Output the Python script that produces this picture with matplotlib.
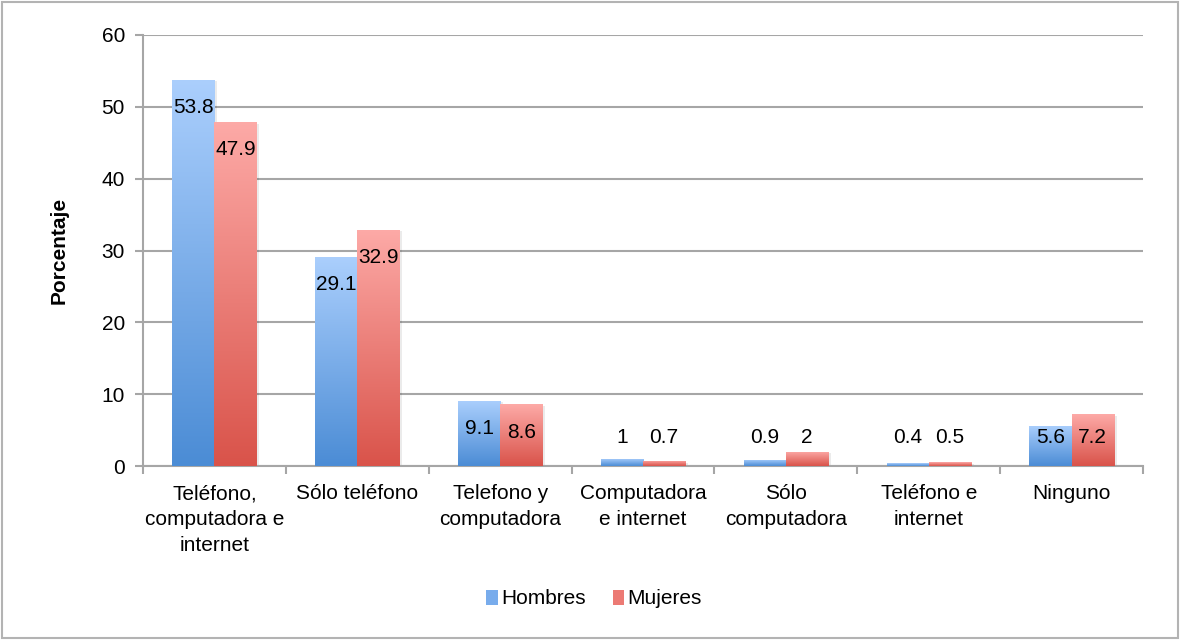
import numpy as np
import matplotlib.pyplot as plt
from matplotlib.colors import LinearSegmentedColormap
from matplotlib.patches import Rectangle

plt.rcParams["font.family"] = ["Liberation Sans", "DejaVu Sans"]

categories = [
    "Teléfono,\ncomputadora e\ninternet",
    "Sólo teléfono",
    "Telefono y\ncomputadora",
    "Computadora\ne internet",
    "Sólo\ncomputadora",
    "Teléfono e\ninternet",
    "Ninguno",
]
hombres = [53.8, 29.1, 9.1, 1, 0.9, 0.4, 5.6]
mujeres = [47.9, 32.9, 8.6, 0.7, 2, 0.5, 7.2]
labels_h = ["53.8", "29.1", "9.1", "1", "0.9", "0.4", "5.6"]
labels_m = ["47.9", "32.9", "8.6", "0.7", "2", "0.5", "7.2"]

BLUE_TOP, BLUE_BOT = "#abcffd", "#4b8cd5"
RED_TOP, RED_BOT = "#fdaaa7", "#d9534a"
GRID = "#a6a6a6"
FS = 15

fg = plt.figure(figsize=(11.8, 6.4), dpi=100)
ax = fg.add_axes([143 / 1180, 1 - 466 / 640, 1000 / 1180, 431 / 640])

x = np.arange(len(categories))
w = 0.295


def gradient_bars(xpos, vals, top, bot):
    cmap = LinearSegmentedColormap.from_list("g", [bot, top])
    bars = ax.bar(xpos, vals, w, color=bot, lw=0, zorder=3)
    grad = np.linspace(0, 1, 256).reshape(-1, 1)
    for b in bars:
        x0, y0 = b.get_x(), b.get_y()
        im = ax.imshow(grad, cmap=cmap, origin="lower", aspect="auto",
                       extent=[x0, x0 + b.get_width(), y0, y0 + b.get_height()],
                       zorder=4)
        im.set_clip_path(b)
        # faint shadow
        ax.add_patch(Rectangle((x0 + 0.02, y0 - 0.25), b.get_width(), b.get_height(),
                               color="#000000", alpha=0.08, lw=0, zorder=2))
    return bars


gradient_bars(x - w / 2, hombres, BLUE_TOP, BLUE_BOT)
gradient_bars(x + w / 2, mujeres, RED_TOP, RED_BOT)

for xi, v, t in zip(x - w / 2, hombres, labels_h):
    ax.text(xi, max(v - 3.9, 3.9), t, ha="center", va="center", fontsize=FS, zorder=6)
for xi, v, t in zip(x + w / 2, mujeres, labels_m):
    ax.text(xi, max(v - 3.9, 3.9), t, ha="center", va="center", fontsize=FS, zorder=6)

ax.set_xlim(-0.5, len(categories) - 0.5)
ax.set_ylim(0, 60)
ax.set_yticks(range(0, 61, 10))
ax.yaxis.grid(True, color=GRID, lw=1.5, zorder=0)
ax.set_axisbelow(True)

ax.set_xticks(x)
ax.set_xticklabels(categories, fontsize=FS, linespacing=1.45)
ax.set_xticks(np.arange(-0.5, len(categories), 1), minor=True)
ax.tick_params(axis="x", which="major", length=0, pad=13)
ax.tick_params(axis="x", which="minor", length=6, color=GRID, width=1.5)
ax.tick_params(axis="y", length=6, color=GRID, width=1.5, labelsize=FS, pad=7)

for s in ["top", "right"]:
    ax.spines[s].set_visible(False)
for s in ["left", "bottom"]:
    ax.spines[s].set_color(GRID)
    ax.spines[s].set_linewidth(1.5)

ax.set_ylabel("Porcentaje", fontsize=FS, fontweight="bold", labelpad=24)

handles = [Rectangle((0, 0), 1, 1, facecolor="#78acec", lw=0),
           Rectangle((0, 0), 1, 1, facecolor="#ec7a74", lw=0)]
fg.legend(handles, ["Hombres", "Mujeres"], loc="center", bbox_to_anchor=(594 / 1180, 1 - 599 / 640),
          ncol=2, frameon=False, fontsize=FS, handlelength=0.55, handleheight=0.7,
          handletextpad=0.15, columnspacing=1.3)

fg.add_artist(Rectangle((2 / 1180, 2 / 640), 1176 / 1180, 636 / 640, transform=fg.transFigure,
                        fill=False, edgecolor="#b3b3b3", lw=1.5))

fg.savefig("out.png", dpi=100)
